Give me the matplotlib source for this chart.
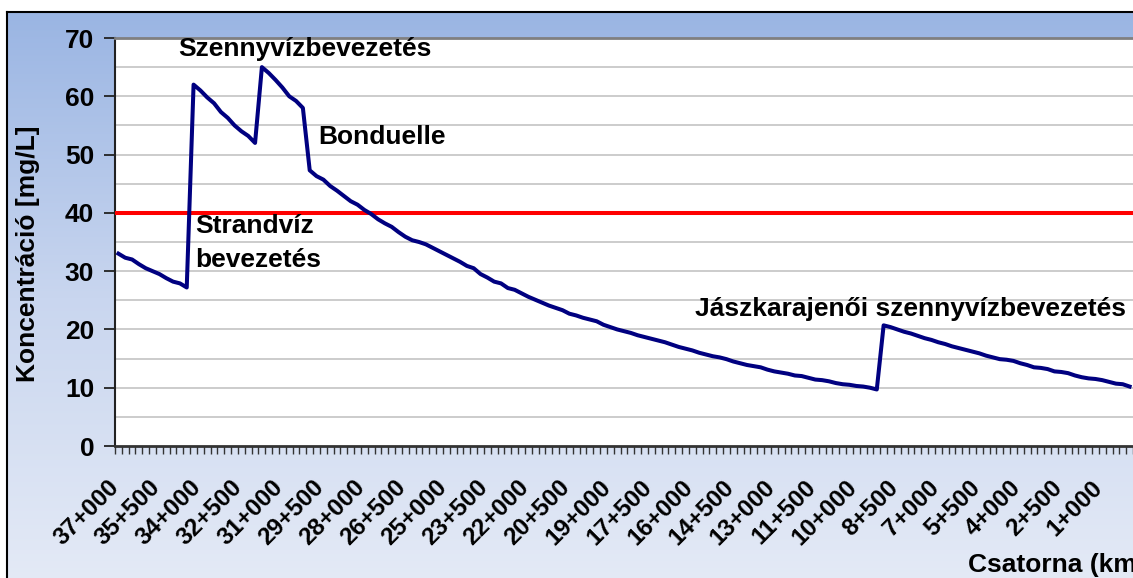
import numpy as np
import matplotlib
matplotlib.use("Agg")
import matplotlib.pyplot as plt
from matplotlib.colors import LinearSegmentedColormap
from matplotlib.transforms import ScaledTranslation

# ---- data (km stations every 250 m, 37+000 -> 0+000) ----
concentration = [
    33.0, 32.3, 32.0, 31.2, 30.5, 30.0, 29.5, 28.8, 28.2, 27.9, 27.2,          # 0-10
    62.0, 61.0, 59.8, 58.8, 57.3, 56.3, 55.0, 54.0, 53.2, 52.0,                # 11-20
    65.0, 64.0, 62.8, 61.5, 60.0, 59.2, 58.0,                                  # 21-27
    47.3, 46.3, 45.7, 44.6, 43.8, 42.9, 42.0, 41.4, 40.5, 39.8, 38.9, 38.2,    # 28-39
    37.6, 36.7, 35.9, 35.3, 35.0, 34.6, 34.0, 33.4, 32.8, 32.2, 31.6, 30.9,    # 40-51
    30.5, 29.5, 28.9, 28.2, 27.9, 27.1, 26.8, 26.2, 25.6, 25.1, 24.6, 24.1,    # 52-63
    23.7, 23.3, 22.7, 22.4, 22.0, 21.7, 21.4, 20.8, 20.4, 20.0, 19.7, 19.4,    # 64-75
    19.0, 18.7, 18.4, 18.1, 17.8, 17.4, 17.0, 16.7, 16.4, 16.0, 15.7, 15.4,    # 76-87
    15.2, 14.9, 14.5, 14.2, 13.9, 13.7, 13.5, 13.1, 12.8, 12.6, 12.4, 12.1,    # 88-99
    12.0, 11.7, 11.4, 11.3, 11.1, 10.8, 10.6, 10.5, 10.3, 10.2, 10.0, 9.7,     # 100-111
    20.7, 20.4, 20.0, 19.6, 19.3, 18.9, 18.5, 18.2, 17.8, 17.5, 17.1, 16.8,    # 112-123
    16.5, 16.2, 15.9, 15.5, 15.2, 14.9, 14.8, 14.6, 14.2, 13.9, 13.5, 13.4,    # 124-135
    13.2, 12.8, 12.7, 12.5, 12.1, 11.8, 11.6, 11.5, 11.3, 11.0, 10.7, 10.6,    # 136-147
    10.2,                                                                       # 148
]
limit_value = 40
tick_labels = ["37+000", "35+500", "34+000", "32+500", "31+000", "29+500", "28+000",
               "26+500", "25+000", "23+500", "22+000", "20+500", "19+000", "17+500",
               "16+000", "14+500", "13+000", "11+500", "10+000", "8+500", "7+000",
               "5+500", "4+000", "2+500", "1+000"]
label_step = 6
y_ticks = [0, 10, 20, 30, 40, 50, 60, 70]
annotations = [
    ("Szennyvízbevezetés", 8.7, 66.9),
    ("Bonduelle", 29.2, 51.8),
    ("Strandvíz", 11.2, 36.5),
    ("bevezetés", 11.2, 30.7),
    ("Jászkarajenői szennyvízbevezetés", 84.4, 22.3),
]

plt.rcParams['font.family'] = ['Liberation Sans', 'DejaVu Sans']
plt.rcParams['font.weight'] = 'bold'

W, H = 1133, 578
fig = plt.figure(figsize=(W / 100, H / 100), dpi=100)
fig.patch.set_facecolor('white')

def px(x0, y0, x1, y1):
    return [x0 / W, 1 - y1 / H, (x1 - x0) / W, (y1 - y0) / H]

# background gradient frame
bg = fig.add_axes(px(7, 12, W + 5, H + 5))
cmap = LinearSegmentedColormap.from_list('bg', ['#9AB5E3', '#C9D6EF', '#E4EAF6'])
grad = np.linspace(0, 1, 256).reshape(-1, 1)
bg.imshow(grad, aspect='auto', cmap=cmap, extent=[0, 1, 0, 1], origin='upper')
bg.set_xlim(0, 1); bg.set_ylim(0, 1)
bg.set_xticks([]); bg.set_yticks([])
for s in ['right', 'bottom']:
    bg.spines[s].set_visible(False)
for s in ['top', 'left']:
    bg.spines[s].set_color('black'); bg.spines[s].set_linewidth(1.5)

ax = fig.add_axes(px(115, 38, W, 446))
ax.set_facecolor('white')
n = len(concentration)
x = np.arange(n)
ax.set_xlim(-0.5, n - 0.5)
ax.set_ylim(0, 70)

for g in np.arange(5, 70, 5):
    ax.axhline(g, color='#C8C8C8', lw=1.3, zorder=1)

ax.axhline(limit_value, color='#FF0000', lw=2.9, zorder=3)
ax.plot(x, concentration, color='#000080', lw=2.9, zorder=4, solid_joinstyle='round')

ax.set_yticks(y_ticks)
ax.set_yticklabels([str(v) for v in y_ticks], fontsize=19, fontweight='bold')
ax.tick_params(axis='y', direction='out', length=8, width=1.3, color='#222222', pad=7)

ax.set_xticks(np.arange(0, n, label_step)[:len(tick_labels)])
ax.set_xticklabels(tick_labels, rotation=45, ha='right', va='top',
                   rotation_mode='anchor', fontsize=17.5, fontweight='bold')
ax.tick_params(axis='x', which='major', length=0, pad=21.5)
shift = ScaledTranslation(-0.11, 0, fig.dpi_scale_trans)
for lab in ax.get_xticklabels():
    lab.set_transform(lab.get_transform() + shift)
ax.set_xticks(np.arange(-0.5, n, 1), minor=True)
ax.tick_params(axis='x', which='minor', direction='out', length=6, width=1.0, color='#333333')

ax.spines['left'].set_color('#222222'); ax.spines['left'].set_linewidth(1.5)
ax.spines['bottom'].set_color('#333333'); ax.spines['bottom'].set_linewidth(2)
ax.spines['top'].set_color('#808080'); ax.spines['top'].set_linewidth(2)
ax.spines['right'].set_visible(False)

for txt, xi, yi in annotations:
    ax.text(xi, yi, txt, fontsize=19, fontweight='bold', ha='left', va='baseline',
            zorder=5, clip_on=False)

fig.text(28 / W, 1 - 254 / H, "Koncentráció [mg/L]", rotation=90, fontsize=19,
         fontweight='bold', ha='center', va='center')
fig.text(968 / W, 1 - 572 / H, "Csatorna (km)", fontsize=19, fontweight='bold',
         ha='left', va='baseline')

fig.savefig('out.png', dpi=100)
